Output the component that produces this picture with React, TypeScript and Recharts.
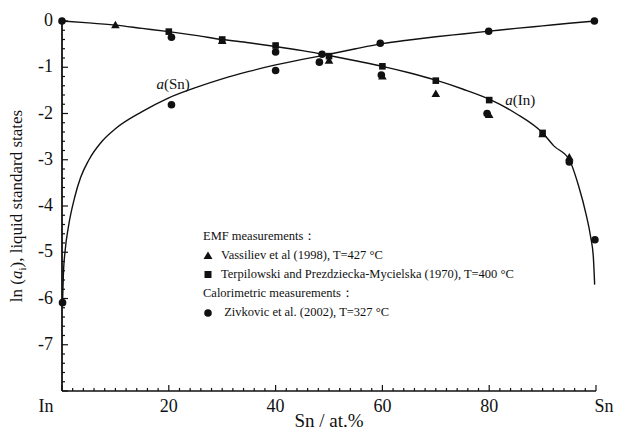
import {
  ComposedChart,
  Line,
  Scatter,
  XAxis,
  YAxis,
  Legend,
  ReferenceDot,
} from 'recharts'

const FONT = 'Liberation Serif, DejaVu Serif, Times, serif'

// model curves, ln a(In) and ln a(Sn) vs. Sn at.%
const lnInCurve = [
  { x: 0, y: 0 }, { x: 5, y: -0.04 }, { x: 10, y: -0.09 }, { x: 15, y: -0.16 },
  { x: 20, y: -0.23 }, { x: 25, y: -0.31 }, { x: 30, y: -0.4 }, { x: 35, y: -0.47 },
  { x: 40, y: -0.55 }, { x: 45, y: -0.64 }, { x: 50, y: -0.745 }, { x: 55, y: -0.86 },
  { x: 60, y: -0.98 }, { x: 65, y: -1.12 }, { x: 70, y: -1.28 }, { x: 75, y: -1.47 },
  { x: 80, y: -1.69 }, { x: 85, y: -2.0 }, { x: 90, y: -2.42 }, { x: 92.1, y: -2.7 },
  { x: 95, y: -3.0 }, { x: 96.8, y: -3.59 }, { x: 98.1, y: -4.16 }, { x: 99, y: -4.67 },
  { x: 99.5, y: -5.1 }, { x: 99.75, y: -5.7 },
]

const lnSnCurve = [
  { x: 0.1, y: -6.1 }, { x: 0.25, y: -5.5 }, { x: 0.6, y: -4.95 }, { x: 1.2, y: -4.45 },
  { x: 2.4, y: -3.8 }, { x: 3.5, y: -3.38 }, { x: 5, y: -3.01 }, { x: 7.5, y: -2.6 },
  { x: 10, y: -2.33 }, { x: 15, y: -1.96 }, { x: 20, y: -1.66 }, { x: 25, y: -1.44 },
  { x: 30, y: -1.25 }, { x: 35, y: -1.09 }, { x: 40, y: -0.95 }, { x: 45, y: -0.83 },
  { x: 50, y: -0.72 }, { x: 55, y: -0.6 }, { x: 60, y: -0.49 }, { x: 65, y: -0.41 },
  { x: 70, y: -0.34 }, { x: 75, y: -0.28 }, { x: 80, y: -0.22 }, { x: 85, y: -0.16 },
  { x: 90, y: -0.105 }, { x: 95, y: -0.05 }, { x: 100, y: 0 },
]

// EMF, Vassiliev et al (1998)
const vassiliev = [
  { x: 10, y: -0.09 }, { x: 30, y: -0.43 }, { x: 50, y: -0.86 }, { x: 60, y: -1.2 },
  { x: 70, y: -1.58 }, { x: 80, y: -2.03 }, { x: 90, y: -2.45 }, { x: 95, y: -2.95 },
]

// EMF, Terpilowski and Prezdziecka-Mycielska (1970)
const terpilowski = [
  { x: 20, y: -0.23 }, { x: 30, y: -0.4 }, { x: 40, y: -0.53 }, { x: 50, y: -0.76 },
  { x: 60, y: -0.98 }, { x: 70, y: -1.29 }, { x: 80, y: -1.71 }, { x: 90, y: -2.42 },
]

// calorimetry, Zivkovic et al. (2002)
const zivkovicIn = [
  { x: 0, y: 0 }, { x: 20.5, y: -0.35 }, { x: 40, y: -0.67 }, { x: 48.2, y: -0.89 },
  { x: 59.8, y: -1.17 }, { x: 79.6, y: -2.0 }, { x: 95, y: -3.05 }, { x: 99.8, y: -4.73 },
]
const zivkovicSn = [
  { x: 0.1, y: -6.09 }, { x: 20.5, y: -1.81 }, { x: 40, y: -1.07 }, { x: 48.7, y: -0.72 },
  { x: 59.6, y: -0.48 }, { x: 79.9, y: -0.22 }, { x: 99.7, y: 0 },
]

const xMajor = [0, 20, 40, 60, 80, 100]
const xLabels = ['In', '20', '40', '60', '80', 'Sn']
const yMajor = [0, -1, -2, -3, -4, -5, -6, -7, -8]
const yLabels = ['0', '-1', '-2', '-3', '-4', '-5', '-6', '-7', '']

const xTicks = Array.from({ length: 51 }, (_, i) => i * 2)
const yTicks = Array.from({ length: 41 }, (_, i) => -Math.round(i * 2) / 10)

const isMajor = (v: number, list: number[]) => list.some((m) => Math.abs(m - v) < 1e-6)

const BottomTick = ({ x, y, payload }: any) => {
  const major = isMajor(payload.value, xMajor)
  const idx = xMajor.findIndex((m) => Math.abs(m - payload.value) < 1e-6)
  // element names sit outside the frame corners
  const shift = idx === 0 ? -16 : idx === xMajor.length - 1 ? 8 : 0
  return (
    <g>
      <line x1={x} x2={x} y1={y} y2={y - (major ? 6 : 3)} stroke="#111" strokeWidth={1.2} />
      {major && (
        <text x={x + shift} y={y + 21} textAnchor="middle" fontFamily={FONT} fontSize={18} fill="#111">
          {xLabels[idx]}
        </text>
      )}
    </g>
  )
}

const TopTick = ({ x, y, payload }: any) => {
  const major = isMajor(payload.value, xMajor)
  return <line x1={x} x2={x} y1={y} y2={y + (major ? 6 : 3)} stroke="#111" strokeWidth={1.2} />
}

const LeftTick = ({ x, y, payload }: any) => {
  const major = isMajor(payload.value, yMajor)
  const idx = yMajor.findIndex((m) => Math.abs(m - payload.value) < 1e-6)
  return (
    <g>
      <line x1={x} x2={x + (major ? 6 : 3)} y1={y} y2={y} stroke="#111" strokeWidth={1.2} />
      {major && (
        <text x={x - 9} y={y + 5} textAnchor="end" fontFamily={FONT} fontSize={18} fill="#111">
          {yLabels[idx]}
        </text>
      )}
    </g>
  )
}

const RightTick = ({ x, y, payload }: any) => {
  const major = isMajor(payload.value, yMajor)
  return <line x1={x} x2={x - (major ? 6 : 3)} y1={y} y2={y} stroke="#111" strokeWidth={1.2} />
}

const Triangle = ({ cx, cy }: any) => (
  <path d={`M${cx},${cy - 4.5}L${cx + 4.3},${cy + 3}L${cx - 4.3},${cy + 3}Z`} fill="#111" />
)
const Square = ({ cx, cy }: any) => <rect x={cx - 3.3} y={cy - 3.3} width={6.6} height={6.6} fill="#111" />
const Dot = ({ cx, cy }: any) => <circle cx={cx} cy={cy} r={3.8} fill="#111" />

const YTitle = ({ viewBox }: any) => {
  const cy = viewBox.y + viewBox.height / 2
  return (
    <text
      transform={`translate(22,${cy}) rotate(-90)`}
      textAnchor="middle"
      fontFamily={FONT}
      fontSize={17}
      fill="#111"
    >
      ln (<tspan fontStyle="italic">a</tspan>
      <tspan fontSize={11} dy={4}>i</tspan>
      <tspan dy={-4}>), liquid standard states</tspan>
    </text>
  )
}

const XTitle = ({ viewBox }: any) => (
  <text
    x={viewBox.x + viewBox.width / 2}
    y={viewBox.y + 36}
    textAnchor="middle"
    fontFamily={FONT}
    fontSize={19}
    fill="#111"
  >
    Sn / at.%
  </text>
)

const CurveName = ({ name }: { name: string }) => (props: any) => {
  const { viewBox } = props
  return (
    <text x={viewBox.x} y={viewBox.y + 5} textAnchor="middle" fontFamily={FONT} fontSize={15} fill="#111">
      <tspan fontStyle="italic">a</tspan>({name})
    </text>
  )
}

const legendRow = { display: 'flex', alignItems: 'center', height: 19, whiteSpace: 'nowrap' } as const

const LegendBox = () => (
  <div style={{ fontFamily: FONT, fontSize: 12.5, color: '#111', lineHeight: '19px' }}>
    <div style={legendRow}>EMF measurements：</div>
    <div style={legendRow}>
      <svg width={18} height={12}>
        <path d="M5,1.5L9.5,9L0.5,9Z" fill="#111" />
      </svg>
      Vassiliev et al (1998), T=427 °C
    </div>
    <div style={legendRow}>
      <svg width={18} height={12}>
        <rect x={1.5} y={2} width={7} height={7} fill="#111" />
      </svg>
      Terpilowski and Prezdziecka-Mycielska (1970), T=400 °C
    </div>
    <div style={legendRow}>Calorimetric measurements：</div>
    <div style={legendRow}>
      <svg width={18} height={12}>
        <circle cx={5} cy={6} r={3.8} fill="#111" />
      </svg>
      &nbsp;Zivkovic et al. (2002), T=327 °C
    </div>
  </div>
)

export default function App() {
  return (
    <div style={{ position: 'absolute', left: 0, top: 0, background: '#fff', fontFamily: FONT }}>
      <ComposedChart width={619} height={438} margin={{ top: 21, right: 23, bottom: 17, left: 22 }}>
        <XAxis
          dataKey="x"
          type="number"
          domain={[0, 100]}
          ticks={xTicks}
          interval={0}
          tickSize={0}
          tickMargin={0}
          height={30}
          tick={<BottomTick />}
          axisLine={{ stroke: '#111', strokeWidth: 1.6 }}
          tickLine={false}
          label={<XTitle />}
        />
        <XAxis
          xAxisId="top"
          orientation="top"
          dataKey="x"
          type="number"
          domain={[0, 100]}
          ticks={xTicks}
          interval={0}
          tickSize={0}
          tickMargin={0}
          height={0}
          tick={<TopTick />}
          axisLine={{ stroke: '#111', strokeWidth: 1.6 }}
          tickLine={false}
        />
        <YAxis
          type="number"
          domain={[-8, 0]}
          ticks={yTicks}
          interval={0}
          tickSize={0}
          tickMargin={0}
          width={40}
          tick={<LeftTick />}
          axisLine={{ stroke: '#111', strokeWidth: 1.8 }}
          tickLine={false}
          label={<YTitle />}
        />
        <YAxis
          yAxisId="right"
          orientation="right"
          type="number"
          domain={[-8, 0]}
          ticks={yTicks}
          interval={0}
          tickSize={0}
          tickMargin={0}
          width={0}
          tick={<RightTick />}
          axisLine={{ stroke: '#111', strokeWidth: 1.6 }}
          tickLine={false}
        />
        <Line
          data={lnInCurve}
          dataKey="y"
          type="monotone"
          stroke="#111"
          strokeWidth={1.4}
          dot={false}
          isAnimationActive={false}
          legendType="none"
        />
        <Line
          data={lnSnCurve}
          dataKey="y"
          type="monotone"
          stroke="#111"
          strokeWidth={1.4}
          dot={false}
          isAnimationActive={false}
          legendType="none"
        />
        <Scatter data={vassiliev} dataKey="y" shape={<Triangle />} isAnimationActive={false} />
        <Scatter data={terpilowski} dataKey="y" shape={<Square />} isAnimationActive={false} />
        <Scatter data={zivkovicIn} dataKey="y" shape={<Dot />} isAnimationActive={false} />
        <Scatter data={zivkovicSn} dataKey="y" shape={<Dot />} isAnimationActive={false} />
        <ReferenceDot x={20.8} y={-1.37} r={0} fill="none" stroke="none" label={CurveName({ name: 'Sn' })} />
        <ReferenceDot x={85.8} y={-1.71} r={0} fill="none" stroke="none" label={CurveName({ name: 'In' })} />
        <Legend
          layout="vertical"
          align="center"
          verticalAlign="middle"
          content={<LegendBox />}
          wrapperStyle={{ left: 203, top: 227, width: 400 }}
        />
      </ComposedChart>
    </div>
  )
}
